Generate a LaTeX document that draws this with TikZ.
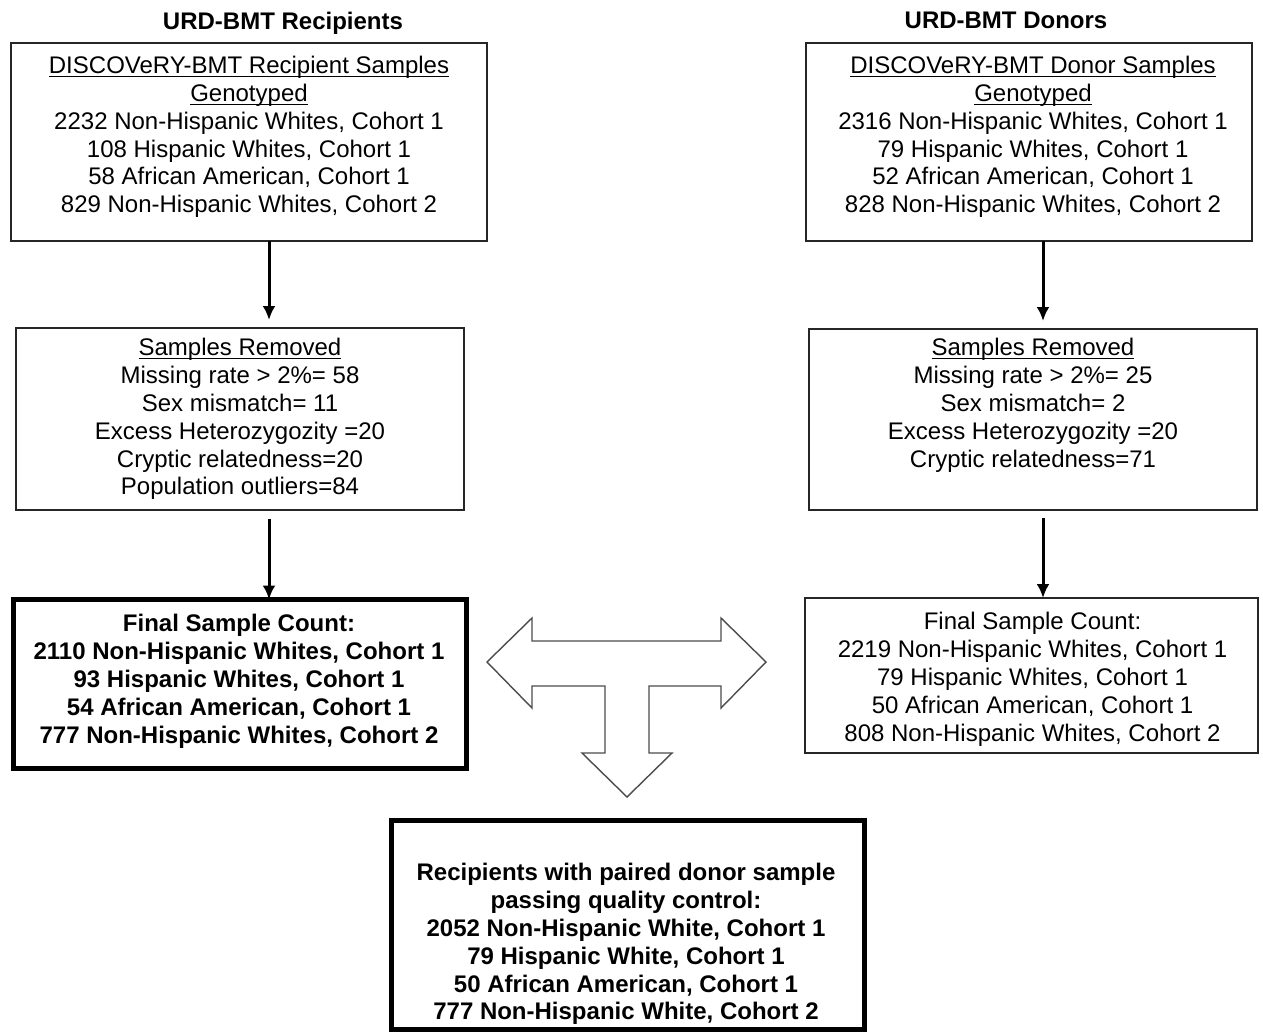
\documentclass[tikz,border=0pt]{standalone}
\usepackage{fontspec}
\setmainfont{Liberation Sans}
\usetikzlibrary{arrows.meta,positioning}
\newcommand{\ulbase}[1]{\underline{\raisebox{0pt}[\height][0pt]{#1}}}
\tikzset{
  box/.style={draw=black!85, line width=0.6pt, inner sep=0pt, outer sep=0pt},
  boldbox/.style={box, draw=black, line width=2.6pt},
  txt/.style={align=center, inner sep=0pt, anchor=north, font=\fontsize{12}{13.9}\selectfont},
  boldtxt/.style={txt, font=\fontsize{12}{13.9}\selectfont\bfseries},
  flow/.style={-{Latex[length=7pt,width=6.5pt]}, line width=1.5pt},
}
\begin{document}
\begin{tikzpicture}[x=0.5pt,y=-0.5pt]
\useasboundingbox (0,0) rectangle (1263,1034);
% column titles
\node[boldtxt] (rtitle) at (283,12) {URD-BMT Recipients};
\node[boldtxt] (dtitle) at (1006,12) {URD-BMT Donors};
% recipients
\node[box, minimum width=238pt, minimum height=99pt] (rsamp) at (249,142) {};
\node[txt] (rsamptxt) at (249,56) {\ulbase{DISCOVeRY-BMT Recipient Samples}\\ \ulbase{Genotyped}\\
  2232 Non-Hispanic Whites, Cohort 1\\ 108 Hispanic Whites, Cohort 1\\
  58 African American, Cohort 1\\ 829 Non-Hispanic Whites, Cohort 2};
\node[box, minimum width=224pt, minimum height=91pt] (rrem) at (240,419) {};
\node[txt] (rremtxt) at (240,338) {\ulbase{Samples Removed}\\ Missing rate > 2\%= 58\\ Sex mismatch= 11\\
  Excess Heterozygozity =20\\ Cryptic relatedness=20\\ Population outliers=84};
\node[boldbox, minimum width=226.5pt, minimum height=84.5pt] (rfinal) at (240,684) {};
\node[boldtxt] (rfinaltxt) at (239,614) {Final Sample Count:\\ 2110 Non-Hispanic Whites, Cohort 1\\
  93 Hispanic Whites, Cohort 1\\ 54 African American, Cohort 1\\ 777 Non-Hispanic Whites, Cohort 2};
% donors
\node[box, minimum width=223pt, minimum height=99pt] (dsamp) at (1029,142) {};
\node[txt] (dsamptxt) at (1033,56) {\ulbase{DISCOVeRY-BMT Donor Samples}\\ \ulbase{Genotyped}\\
  2316 Non-Hispanic Whites, Cohort 1\\ 79 Hispanic Whites, Cohort 1\\
  52 African American, Cohort 1\\ 828 Non-Hispanic Whites, Cohort 2};
\node[box, minimum width=224pt, minimum height=90.5pt] (drem) at (1033,419.5) {};
\node[txt] (dremtxt) at (1033,338) {\ulbase{Samples Removed}\\ Missing rate > 2\%= 25\\ Sex mismatch= 2\\
  Excess Heterozygozity =20\\ Cryptic relatedness=71};
\node[box, minimum width=226.5pt, minimum height=77.5pt] (dfinal) at (1031.5,675.5) {};
\node[txt] (dfinaltxt) at (1032.5,612) {Final Sample Count:\\ 2219 Non-Hispanic Whites, Cohort 1\\
  79 Hispanic Whites, Cohort 1\\ 50 African American, Cohort 1\\ 808 Non-Hispanic Whites, Cohort 2};
% paired result
\node[boldbox, minimum width=236.5pt, minimum height=104.5pt] (paired) at (628,925) {};
\node[boldtxt] (pairedtxt) at (626,863) {Recipients with paired donor sample\\ passing quality control:\\
  2052 Non-Hispanic White, Cohort 1\\ 79 Hispanic White, Cohort 1\\
  50 African American, Cohort 1\\ 777 Non-Hispanic White, Cohort 2};
% arrows
\draw[flow] ([xshift=10pt]rsamp.south) -- ([xshift=14.5pt,yshift=4pt]rrem.north);
\draw[flow] ([xshift=14.5pt,yshift=-4.5pt]rrem.south) -- ([xshift=14.5pt]rfinal.north);
\draw[flow] ([xshift=7pt]dsamp.south) -- ([xshift=5pt,yshift=4pt]drem.north);
\draw[flow] ([xshift=5pt,yshift=-4pt]drem.south) -- ([xshift=5.75pt]dfinal.north);
% T-shaped block arrow
\draw[draw=black!70, line width=0.7pt, fill=white, line join=miter]
  (487,662) -- (532,618) -- (532,641) -- (721,641) -- (721,618) -- (766,662)
  -- (721,708) -- (721,686) -- (649,686) -- (649,753) -- (672,753) -- (627,797)
  -- (582,753) -- (605,753) -- (605,686) -- (532,686) -- (532,708) -- cycle;
\end{tikzpicture}
\end{document}
